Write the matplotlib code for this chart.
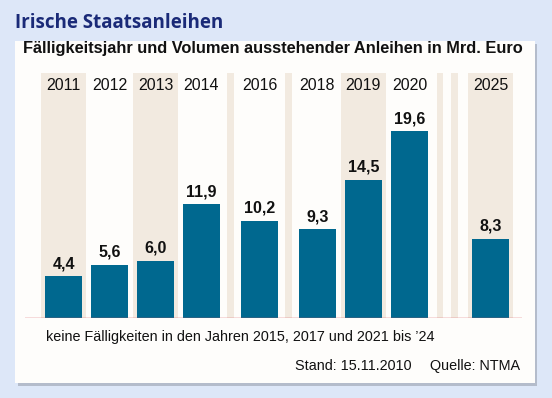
import matplotlib
matplotlib.use("Agg")
import matplotlib.pyplot as plt
from matplotlib.patches import Rectangle

# ---- data ----
years = ["2011", "2012", "2013", "2014", "2016", "2018", "2019", "2020", "2025"]
volumes = [4.4, 5.6, 6.0, 11.9, 10.2, 9.3, 14.5, 19.6, 8.3]
value_labels = ["4,4", "5,6", "6,0", "11,9", "10,2", "9,3", "14,5", "19,6", "8,3"]
shaded = [True, False, True, False, False, False, True, False, True]
# number of skipped (no-maturity) years before each category
skipped_before = [0, 0, 0, 0, 1, 1, 0, 0, 4]

title = "Irische Staatsanleihen"
subtitle = "Fälligkeitsjahr und Volumen ausstehender Anleihen in Mrd. Euro"
note = "keine Fälligkeiten in den Jahren 2015, 2017 und 2021 bis \u201924"
stand = "Stand: 15.11.2010"
quelle = "Quelle: NTMA"

# ---- layout ----
W, H = 552, 398
BG = "#dde7f8"
PANEL = "#fefdfb"
BEIGE = "#f2eae0"
BAR = "#00688f"
RED = "#d8505a"
NAVY = "#1a2a78"

fig = plt.figure(figsize=(W / 100, H / 100), dpi=100)
fig.patch.set_facecolor(BG)

def fx(px):
    return px / W

def fy(py):
    return 1 - py / H

# panel shadow + panel
fig.patches.append(Rectangle((fx(18), fy(386)), fx(537) - fx(18), fy(44) - fy(386),
                             transform=fig.transFigure, facecolor="#b4bccb", edgecolor="none", zorder=0))
fig.patches.append(Rectangle((fx(15), fy(383)), fx(535) - fx(15), fy(41) - fy(383),
                             transform=fig.transFigure, facecolor=PANEL, edgecolor="none", zorder=1))

fig.text(fx(15), fy(23), title, fontsize=13.5, fontweight="bold", color=NAVY,
         family="Open Sans", va="center", ha="left")
fig.text(fx(23), fy(48), subtitle, fontsize=11.8, fontweight="bold", color="#111111",
         family="Liberation Sans", va="center", ha="left")

# positions: pitch 1 per year, compressed gaps for skipped years
single_gap = 0.26
multi_gap = 0.76
xs = []
gap_marks = []
cur = 0.0
for i, s in enumerate(skipped_before):
    if i > 0:
        cur += 1.0
        if s == 1:
            gap_marks.append(cur - 0.5 + single_gap / 2)
            cur += single_gap
        elif s > 1:
            start = cur - 0.5
            gap_marks.append(start + 0.16)
            gap_marks.append(start + 0.48)
            cur += multi_gap
    xs.append(cur)

px_per_unit = 46.0
x0_px = 63.5
base_px = 318
top_px = 73
py_per_val = 9.54

left_px, right_px = 25, 522
ax = fig.add_axes([fx(left_px), fy(base_px), fx(right_px) - fx(left_px), fy(top_px) - fy(base_px)])
ax.set_xlim((left_px - x0_px) / px_per_unit, (right_px - x0_px) / px_per_unit)
ax.set_ylim(0, (base_px - top_px) / py_per_val)
ax.set_facecolor("none")
ax.set_zorder(2)
for sp in ax.spines.values():
    sp.set_visible(False)
ax.set_xticks([])
ax.set_yticks([])

for x, sh in zip(xs, shaded):
    if sh:
        ax.axvspan(x - 0.49, x + 0.49, color=BEIGE, lw=0, zorder=1)
for g in gap_marks:
    ax.axvspan(g - 0.07, g + 0.07, color=BEIGE, lw=0, zorder=1)

ax.bar(xs, volumes, width=0.8, color=BAR, zorder=2)
ax.axhline(0, color=RED, lw=1.0, zorder=3)

for x, v, lab, yr in zip(xs, volumes, value_labels, years):
    ax.annotate(lab, (x, v), xytext=(0, 3.5), textcoords="offset points",
                ha="center", va="bottom", fontsize=11.5, fontweight="bold",
                family="Liberation Sans", color="#111111", zorder=4)
    ax.text(x, (base_px - 86) / py_per_val, yr, ha="center", va="center",
            fontsize=11.5, family="Liberation Sans", color="#111111", zorder=4)

fig.text(fx(46), fy(337), note, fontsize=10.4, family="Liberation Sans",
         color="#111111", va="center", ha="left")
fig.text(fx(295), fy(366), stand, fontsize=10.4, family="Liberation Sans",
         color="#111111", va="center", ha="left")
fig.text(fx(520), fy(366), quelle, fontsize=10.4, family="Liberation Sans",
         color="#111111", va="center", ha="right")

fig.savefig("out.png", dpi=100, facecolor=BG)
